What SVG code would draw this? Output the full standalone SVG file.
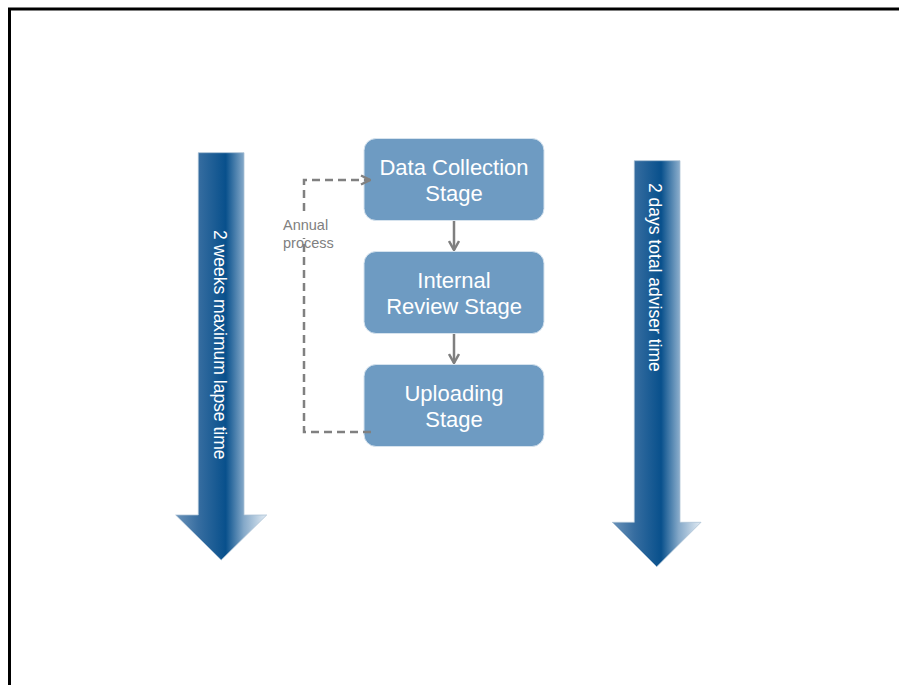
<svg xmlns="http://www.w3.org/2000/svg" width="899" height="685" viewBox="0 0 899 685">
  <style>
    .box { fill: #6e9bc2; stroke: #d6e3ee; stroke-width: 1; }
    .boxtxt { font-family: "Liberation Sans", Arial, sans-serif; font-size: 22px; fill: #ffffff; text-anchor: middle; }
    .arrtxt { font-family: "Liberation Sans", Arial, sans-serif; font-size: 17.5px; fill: #ffffff; }
    .lbl { font-family: "Liberation Sans", Arial, sans-serif; font-size: 14.5px; fill: #808080; }
    .flow { fill: none; stroke: #7f7f7f; stroke-width: 2.5; }
    .dash { fill: none; stroke: #808080; stroke-width: 2.5; stroke-dasharray: 8 5; }
    .big { stroke: #a8bfd3; stroke-width: 0.75; }
  </style>
  <defs>
    <linearGradient id="gL" gradientUnits="userSpaceOnUse" x1="175.7" y1="0" x2="266.7" y2="0">
      <stop offset="0" stop-color="#6b93ba"/>
      <stop offset="0.25" stop-color="#366da0"/>
      <stop offset="0.55" stop-color="#08508c"/>
      <stop offset="0.75" stop-color="#85a9c9"/>
      <stop offset="1" stop-color="#e3ecf4"/>
    </linearGradient>
    <linearGradient id="gR" gradientUnits="userSpaceOnUse" x1="612.3" y1="0" x2="701" y2="0">
      <stop offset="0" stop-color="#6b93ba"/>
      <stop offset="0.25" stop-color="#366da0"/>
      <stop offset="0.55" stop-color="#08508c"/>
      <stop offset="0.75" stop-color="#85a9c9"/>
      <stop offset="1" stop-color="#e3ecf4"/>
    </linearGradient>
    <marker id="ah" viewBox="0 0 12 12" refX="11" refY="6" markerWidth="12" markerHeight="12" markerUnits="userSpaceOnUse" orient="auto">
      <path d="M2,1 L11,6 L2,11" fill="none" stroke="#7f7f7f" stroke-width="2.5"/>
    </marker>
    <marker id="ahd" viewBox="0 0 12 12" refX="11" refY="6" markerWidth="12" markerHeight="12" markerUnits="userSpaceOnUse" orient="auto">
      <path d="M2,1.5 L11,6 L2,10.5" fill="none" stroke="#808080" stroke-width="2.5"/>
    </marker>
  </defs>

  <path d="M9.5,685 V9 H899" fill="none" stroke="#000000" stroke-width="3"/>

  <g id="arrow-left">
    <path class="big" d="M198.3,152.7 H244 V515 H266.7 L221.2,560 L175.7,515 H198.3 Z" fill="url(#gL)"/>
    <text class="arrtxt" transform="translate(213.5,230) rotate(90)">2 weeks maximum lapse time</text>
  </g>

  <g id="arrow-right">
    <path class="big" d="M634.3,160.7 H680 V522.3 H701 L656.7,566.7 L612.3,522.3 H634.3 Z" fill="url(#gR)"/>
    <text class="arrtxt" transform="translate(648.5,183) rotate(90)">2 days total adviser time</text>
  </g>

  <g id="label-annual">
    <text class="lbl" x="283" y="230">Annual</text>
    <text class="lbl" x="283" y="248">process</text>
  </g>

  <g id="node-data-collection">
    <rect class="box" x="364" y="138.5" width="180" height="82" rx="12"/>
    <text class="boxtxt" x="454" y="175">Data Collection</text>
    <text class="boxtxt" x="454" y="201">Stage</text>
  </g>

  <g id="node-internal-review">
    <rect class="box" x="364" y="251.5" width="180" height="82" rx="12"/>
    <text class="boxtxt" x="454" y="288">Internal</text>
    <text class="boxtxt" x="454" y="314">Review Stage</text>
  </g>

  <g id="node-uploading">
    <rect class="box" x="364" y="364.5" width="180" height="82" rx="12"/>
    <text class="boxtxt" x="454" y="401">Uploading</text>
    <text class="boxtxt" x="454" y="427">Stage</text>
  </g>

  <g id="connectors">
    <line class="flow" x1="454" y1="221" x2="454" y2="250" marker-end="url(#ah)"/>
    <line class="flow" x1="454" y1="334" x2="454" y2="363" marker-end="url(#ah)"/>
    <path class="dash" d="M371,432 H304 V238"/>
    <path class="dash" d="M304,211 V180 H370" marker-end="url(#ahd)"/>
  </g>
</svg>
